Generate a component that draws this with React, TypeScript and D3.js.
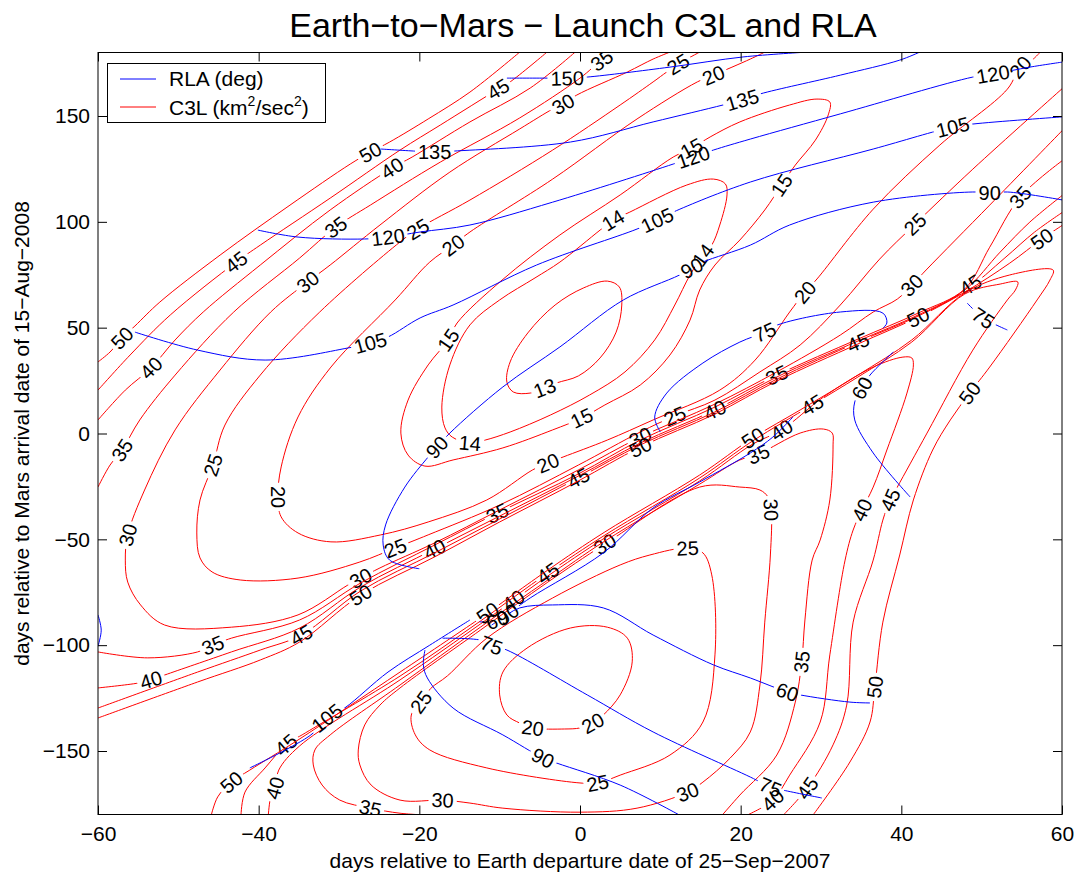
import { useEffect, useRef } from "react";
import * as d3 from "d3";

type Pt = [number, number];

// axis ticks (days)
const xTicks = [-60, -40, -20, 0, 20, 40, 60];
const yTicks = [-150, -100, -50, 0, 50, 100, 150];

// ---- C3L contours, [departure day, arrival day] ----
const c3_13: Pt[] = [[3.4,72.0],[4.9,69.2],[5.2,60.7],[4.5,47.9],[2.5,35.7],[-0.2,27.2],[-2.9,23.9],[-4.4,21.5],[-6.2,19.1],[-8.3,19.6],[-9.1,24.3],[-8.7,33.8],[-6.5,47.5],[-3.1,60.7],[0.4,68.7]];
const c3_13_lab: Pt[] = [[-4.4,21.5]];

const c3_14: Pt[] = [[-13.7,-4.5],[-11.8,-3.1],[-8.7,0.7],[-3.7,8.7],[1.2,18.2],[5.6,29.1],[9.3,44.2],[11.8,60.7],[13.7,74.9],[15.3,84.3],[16.4,89.0],[17.4,98.5],[18.3,112.7],[18.1,117.9],[16.6,120.2],[13.3,117.4],[6.2,104.6],[4.1,100.8],[2.5,96.1],[-2.5,81.0],[-5.6,73.5],[-10.0,63.1],[-13.7,51.3],[-16.2,32.4],[-17.2,12.5],[-16.8,2.6],[-15.9,-1.7]];
const c3_14_lab: Pt[] = [[-13.7,-4.5],[15.3,84.3],[4.1,100.8]];

const c3_15: Pt[] = [[-16.4,44.2],[-15.3,52.2],[-9.7,72.5],[-2.5,93.8],[5.0,112.7],[11.6,130.6],[13.9,134.8],[16.2,140.1],[19.9,147.2],[26.1,155.2],[29.5,158.0],[31.1,156.6],[30.9,150.5],[29.3,138.6],[26.8,126.8],[25.1,117.4],[23.0,105.6],[19.9,91.4],[16.8,79.6],[14.9,67.8],[13.7,53.6],[11.2,37.1],[7.5,22.9],[3.1,13.5],[0.2,7.3],[-3.4,1.7],[-9.6,-6.8],[-15.8,-12.5],[-19.3,-15.4],[-21.4,-10.2],[-22.3,0.2],[-21.4,15.8],[-18.9,32.4]];
const c3_15_lab: Pt[] = [[-16.4,44.2],[13.9,134.8],[25.1,117.4],[0.2,7.3]];

const c3_20: Pt[] = [[23.0,180.2],[21.2,176.9],[16.6,169.3],[14.6,166.1],[7.1,148.6],[-3.4,120.2],[-13.7,95.2],[-15.8,89.0],[-18.7,81.0],[-23.0,63.1],[-31.0,31.4],[-35.1,7.8],[-37.2,-15.8],[-37.6,-30.0],[-37.2,-39.4],[-35.1,-47.0],[-31.0,-51.2],[-24.8,-47.9],[-18.9,-41.8],[-11.6,-31.4],[-5.9,-17.2],[-4.0,-13.9],[-2.1,-11.1],[3.4,-3.1],[9.1,6.4],[17.4,20.5],[21.8,34.7],[26.1,57.4],[28.0,66.8],[29.5,73.0],[36.5,106.0],[44.8,136.3],[53.2,162.7],[54.8,173.1],[56.0,175.5],[57.3,180.2]];
const c3_20_lab: Pt[] = [[16.6,169.3],[-15.8,89.0],[-37.6,-30.0],[-4.0,-13.9],[28.0,66.8],[54.8,173.1]];

const c3_25: Pt[] = [[14.9,180.2],[12.2,174.5],[10.8,170.8],[9.1,166.1],[5.0,155.2],[-3.4,133.9],[-13.7,110.3],[-20.2,96.6],[-22.4,90.5],[-32.4,57.4],[-39.8,27.6],[-44.2,4.0],[-45.7,-14.9],[-47.3,-31.4],[-47.7,-47.0],[-47.3,-58.8],[-45.8,-65.4],[-42.3,-69.2],[-35.1,-68.3],[-27.4,-60.7],[-23.0,-54.1],[-18.9,-47.9],[-10.0,-33.8],[-0.2,-14.9],[7.5,0.7],[11.8,8.3],[16.8,15.8],[22.4,29.1],[27.4,41.8],[32.4,60.7],[37.3,82.4],[41.7,98.9],[48.9,124.9],[60.1,163.2]];
const c3_25_lab: Pt[] = [[12.2,174.5],[-20.2,96.6],[-45.7,-14.9],[-23.0,-54.1],[11.8,8.3],[41.7,98.9]];

const c3_30: Pt[] = [[11.2,180.2],[9.1,176.9],[5.9,170.8],[-0.4,159.9],[-2.1,155.7],[-3.4,153.3],[-7.5,143.9],[-16.2,123.5],[-24.9,98.5],[-31.1,79.6],[-33.9,71.6],[-38.5,57.4],[-44.8,30.0],[-50.4,1.7],[-54.2,-26.7],[-56.3,-47.9],[-56.6,-59.8],[-56.3,-70.2],[-54.7,-81.0],[-51.7,-90.5],[-43.4,-91.5],[-35.1,-85.7],[-28.9,-71.6],[-27.3,-68.3],[-24.9,-63.5],[-18.1,-51.7],[-10.0,-36.1],[-0.2,-17.2],[7.5,-1.7],[16.8,13.9],[24.5,29.1],[32.4,46.5],[36.5,57.4],[39.5,63.5],[41.3,70.1],[43.2,77.7],[51.0,107.9],[60.1,143.4]];
const c3_30_lab: Pt[] = [[-2.1,155.7],[-33.9,71.6],[-56.3,-47.9],[-27.3,-68.3],[7.5,-1.7],[41.3,70.1]];

const c3_35a: Pt[] = [[4.4,180.2],[2.7,176.4],[0,167.9],[-7.5,149.1],[-17.4,128.2],[-26.1,107.9],[-30.4,97.5],[-34.9,82.9],[-43.1,57.4],[-50.4,27.6],[-54.8,6.4],[-57.0,-7.8],[-58.5,-14.9],[-60,-25.3]];
const c3_35a_lab: Pt[] = [[2.7,176.4],[-30.4,97.5],[-57.0,-7.8]];
const c3_35b: Pt[] = [[-60,-103.2],[-53.8,-106.0],[-47.6,-103.2],[-45.7,-100.0],[-43.4,-96.7],[-34.9,-88.1],[-27.3,-70.6],[-18.1,-52.7],[-10.3,-37.6],[-0.2,-19.1],[7.5,-3.1],[16.8,12.5],[24.5,27.6],[34.6,44.6],[42.1,56.9],[47.9,68.3],[51.0,88.0],[54.8,111.7],[60.1,129.1]];
const c3_35b_lab: Pt[] = [[-45.7,-100.0],[-10.3,-37.6],[24.5,27.6],[54.8,111.7]];

const c3_40a: Pt[] = [[-60,6.4],[-56.6,20.5],[-53.4,31.0],[-50.4,44.2],[-46.9,57.4],[-39.8,79.6],[-31.1,105.6],[-23.4,125.4],[-20.9,130.6],[-13.7,147.2],[-6.2,163.2],[-0.6,180.2]];
const c3_40a_lab: Pt[] = [[-53.4,31.0],[-23.4,125.4]];
const c3_40b: Pt[] = [[-60,-120.2],[-55.0,-117.9],[-53.4,-116.4],[-51.7,-114.1],[-43.4,-103.2],[-34.9,-91.9],[-27.3,-72.5],[-18.1,-54.6],[-10.0,-39.0],[-0.2,-20.1],[7.5,-4.5],[16.8,11.1],[24.5,26.7],[34.6,43.7],[42.1,56.0],[47.9,67.8],[52.3,85.7],[56.0,99.9],[60.1,112.7]];
const c3_40b_lab: Pt[] = [[-53.4,-116.4],[-18.1,-54.6],[16.8,11.1]];

const c3_45a: Pt[] = [[-60,20.5],[-56.0,37.1],[-51.0,56.0],[-42.8,81.0],[-39.8,89.0],[-31.1,111.2],[-22.4,133.9],[-17.4,145.7],[-10.2,162.7],[-8.7,166.1],[-4.1,180.2]];
const c3_45a_lab: Pt[] = [[-42.8,81.0],[-10.2,162.7]];
const c3_45b: Pt[] = [[-60,-129.7],[-47.6,-112.7],[-39.8,-102.3],[-34.7,-95.2],[-27.3,-74.4],[-18.1,-56.4],[-10.0,-40.4],[-0.2,-21.0],[7.5,-5.4],[16.8,10.2],[24.5,25.7],[34.6,43.2],[42.1,55.5],[47.9,67.3],[52.9,83.0],[56.6,95.2],[60.1,104.6]];
const c3_45b_lab: Pt[] = [[-34.7,-95.2],[-0.2,-21.0],[34.6,43.2],[48.6,70.2]];

const c3_50a: Pt[] = [[-60,33.8],[-58.5,38.5],[-57.0,45.1],[-55.4,50.8],[-52.3,62.1],[-44.8,84.3],[-36.1,107.9],[-28.6,127.3],[-26.1,132.9],[-23.7,137.7],[-18.9,148.6],[-13.7,161.3],[-7.5,180.2]];
const c3_50a_lab: Pt[] = [[-57.0,45.1],[-26.1,132.9]];
const c3_50b: Pt[] = [[-60,-134.4],[-47.6,-117.4],[-39.8,-107.0],[-34.9,-98.5],[-27.3,-76.3],[-18.1,-58.3],[-10.0,-41.8],[-0.2,-22.4],[7.5,-6.4],[16.8,9.2],[24.5,24.8],[34.6,42.3],[42.1,55.0],[47.9,66.8],[53.5,80.5],[57.5,91.9],[60.1,98.5]];
const c3_50b_lab: Pt[] = [[-27.3,-76.3],[7.5,-6.4],[42.1,55.0],[57.5,91.9]];

// lower family (below the second ridge)
const c3L_20: Pt[] = [[-10.0,-123.5],[-9.6,-112.7],[-6.6,-101.4],[-1.2,-91.9],[3.4,-91.5],[5.9,-96.7],[6.5,-107.9],[5.0,-123.5],[2.9,-133.0],[1.6,-136.8],[0,-139.1],[-1.9,-139.6],[-5.9,-139.1],[-7.5,-136.8],[-9.1,-133.0]];
const c3L_20_lab: Pt[] = [[1.6,-136.8],[-5.9,-139.1]];

const c3L_25: Pt[] = [[-19.8,-126.9],[-18.6,-120.5],[-16.5,-114.5],[-11.6,-96.7],[-3.4,-77.7],[5.0,-62.1],[8.7,-57.4],[13.4,-54.1],[15.3,-56.4],[16.4,-66.8],[16.8,-104.6],[15.3,-136.3],[11.2,-151.9],[5.0,-161.4],[2.2,-165.1],[0,-165.1],[-11.6,-158.0],[-18.7,-149.5],[-20.5,-142.4],[-21.0,-133.0]];
const c3L_25_lab: Pt[] = [[-19.8,-126.9],[13.4,-54.1],[2.2,-165.1]];

const c3L_30: Pt[] = [[23.4,-30.0],[22.4,-26.7],[19.9,-25.3],[14.9,-25.3],[3.1,-52.2],[-4.0,-70.2],[-12.4,-92.9],[-22.4,-120.2],[-24.9,-128.3],[-26.8,-137.7],[-27.6,-149.5],[-27.4,-156.6],[-26.0,-166.1],[-22.4,-173.2],[-17.1,-173.2],[-13.7,-174.6],[-9.6,-177.0],[0,-178.9],[7.1,-177.0],[13.4,-169.4],[15.3,-164.7],[18.7,-153.3],[21.2,-141.0],[22.4,-118.8],[23.0,-89.1],[23.7,-57.4],[23.8,-36.1]];
const c3L_30_lab: Pt[] = [[3.1,-52.2],[-17.1,-173.2],[13.4,-169.4],[23.8,-36.1]];

const c3L_35: Pt[] = [[-18.9,-180.3],[-22.4,-179.4],[-26.1,-177.0],[-29.9,-173.2],[-32.1,-166.1],[-33.2,-156.6],[-33.0,-149.5],[-31.1,-142.4],[-22.4,-118.8],[-12.4,-91.5],[-4.0,-69.2],[3.1,-50.8],[14.9,-23.9],[19.9,-12.5],[22.2,-9.7],[27.4,0.2],[30.3,2.1],[31.4,0.2],[31.5,-5.4],[31.1,-31.4],[29.9,-50.3],[28.9,-59.8],[28.0,-88.1],[27.6,-107.9],[26.8,-126.9],[24.5,-151.9],[19.9,-170.8],[17.7,-180.3]];
const c3L_35_lab: Pt[] = [[-26.1,-177.0],[22.2,-9.7],[27.6,-107.9]];

const c3L_40: Pt[] = [[-38.8,-180.3],[-38.5,-171.7],[-38.0,-167.5],[-37.5,-159.0],[-34.9,-147.6],[-22.4,-116.4],[-12.4,-90.0],[-8.3,-78.9],[-4.0,-67.3],[3.1,-49.3],[14.9,-22.4],[21.5,-5.0],[25.1,1.7],[30.3,17.2],[36.5,31.4],[40.2,36.1],[41.3,35.7],[41.5,32.4],[40.7,19.1],[38.2,-7.8],[36.5,-25.3],[35.1,-36.1],[34.0,-45.6],[33.0,-59.8],[31.1,-104.6],[29.9,-136.3],[26.1,-161.4],[24.0,-173.2],[20.8,-180.3]];
const c3L_40_lab: Pt[] = [[-38.0,-167.5],[-8.3,-78.9],[25.1,1.7],[35.1,-36.1],[24.0,-173.2]];

const c3L_45: Pt[] = [[-42.2,-180.3],[-41.7,-169.4],[-39.2,-158.0],[-36.6,-147.1],[-34.2,-141.5],[-22.4,-114.6],[-12.4,-88.6],[-4.0,-65.9],[3.1,-48.0],[14.9,-21.0],[21.5,-3.5],[28.9,13.5],[34.6,26.7],[41.3,43.2],[47.9,65.9],[52.3,70.6],[54.5,71.6],[54.2,67.8],[53.2,63.1],[48.9,39.4],[43.2,0.2],[39.5,-25.3],[38.6,-31.4],[37.7,-40.9],[36.5,-59.8],[34.0,-89.1],[33.2,-128.3],[31.5,-147.1],[28.3,-167.5],[25.3,-180.3]];
const c3L_45_lab: Pt[] = [[-36.6,-147.1],[-4.0,-65.9],[28.9,13.5],[38.6,-31.4],[28.3,-167.5]];

const c3L_50: Pt[] = [[-45.9,-180.3],[-45.1,-171.7],[-43.4,-164.7],[-41.1,-159.0],[-35.1,-144.8],[-22.4,-112.7],[-12.4,-87.2],[-11.5,-84.8],[-4.0,-64.5],[3.1,-46.5],[14.9,-19.6],[21.5,-2.1],[27.4,11.1],[34.6,27.6],[41.3,44.2],[47.9,66.4],[53.5,74.9],[58.9,77.2],[58.5,72.5],[56.9,63.1],[51.0,31.4],[48.5,19.1],[46.1,6.4],[43.9,-7.8],[41.5,-31.4],[39.8,-57.4],[37.7,-89.1],[36.7,-119.8],[36.1,-136.3],[33.6,-155.2],[29.0,-180.3]];
const c3L_50_lab: Pt[] = [[-43.4,-164.7],[-11.5,-84.8],[21.5,-2.1],[48.5,19.1],[36.7,-119.8]];

// ---- RLA contours (deg) ----
const rla150: Pt[] = [[-9.1,167.9],[-4.1,167.9],[-1.6,167.9],[0.9,168.4],[11.2,173.1],[20.3,177.9],[28.3,180.2]];
const rla150_lab: Pt[] = [[-1.6,167.9]];
const rla135: Pt[] = [[-24.8,134.4],[-20.5,133.4],[-18.1,132.9],[-15.8,133.4],[-1.2,137.7],[9.1,147.2],[17.8,155.2],[20.2,157.6],[22.4,160.4],[32.4,169.3],[39.8,176.4],[42.3,180.2]];
const rla135_lab: Pt[] = [[-18.1,132.9],[20.2,157.6]];
const rla120: Pt[] = [[-40.1,96.1],[-35.1,92.8],[-26.8,91.9],[-23.9,92.8],[-19.9,95.2],[-13.7,98.5],[-3.4,109.3],[11.6,127.3],[14.1,130.6],[16.6,133.9],[21.2,139.1],[32.4,151.0],[48.9,168.4],[51.4,169.8],[56.0,173.1],[60.1,175.5]];
const rla120_lab: Pt[] = [[-23.9,92.8],[14.1,130.6],[51.4,169.8]];
const rla105a: Pt[] = [[-55.4,47.9],[-47.6,39.4],[-39.2,34.7],[-28.9,40.4],[-26.1,42.8],[-23.9,45.6],[-19.9,54.6],[-15.8,60.7],[-5.4,79.6],[7.1,96.6],[9.6,100.8],[11.6,104.6],[21.2,118.8],[36.5,134.4],[46.4,144.8],[48.9,146.2],[60.1,149.6]];
const rla105a_lab: Pt[] = [[-26.1,42.8],[9.6,100.8],[46.4,144.8]];
const rla105b: Pt[] = [[-41.1,-158.0],[-33.5,-142.4],[-31.5,-134.4],[-29.3,-129.7],[-23.9,-112.7],[-18.7,-100.0],[-13.7,-88.1]];
const rla105b_lab: Pt[] = [[-31.5,-134.4]];
const rla90a: Pt[] = [[-20.0,-63.9],[-23.7,-59.8],[-24.5,-52.7],[-24.2,-43.2],[-21.8,-25.3],[-18.9,-11.1],[-17.8,-6.4],[-16.2,0.2],[-9.6,22.0],[-2.5,40.9],[5.4,63.1],[12.4,74.9],[13.9,78.2],[15.3,81.0],[21.2,89.0],[26.1,98.5],[36.5,109.3],[48.9,114.1],[51.0,113.6],[53.2,114.1],[60.1,110.3]];
const rla90a_lab: Pt[] = [[-17.8,-6.4],[13.9,78.2],[51.0,113.6]];
const rla90b: Pt[] = [[-11.0,-90.5],[-9.0,-85.3],[-6.2,-77.7],[2.9,-56.4],[9.1,-35.2],[14.9,-22.9],[21.2,-9.2],[24.0,-1.7],[26.5,7.8]];
const rla90b_lab: Pt[] = [[-9.0,-85.3]];
const rla90c: Pt[] = [[-19.3,-102.3],[-19.5,-109.3],[-19.0,-115.5],[-15.8,-129.7],[-9.6,-142.4],[-4.6,-153.3],[-2.9,-155.7],[5.0,-166.1],[12.4,-180.3]];
const rla90c_lab: Pt[] = [[-4.6,-153.3]];
const rla75a: Pt[] = [[10.0,0.7],[9.3,7.8],[10.8,19.1],[15.3,33.3],[19.9,43.2],[23.0,47.9],[24.6,51.3],[32.4,57.4],[37.7,56.9],[38.2,52.2],[37.7,49.8]];
const rla75a_lab: Pt[] = [[23.0,47.9]];
const rla75b: Pt[] = [[48.2,61.6],[50.2,54.6],[53.2,48.9]];
const rla75b_lab: Pt[] = [[50.2,54.6]];
const rla75c: Pt[] = [[-17.1,-96.7],[-12.4,-97.6],[-11.0,-100.0],[-9.1,-102.3],[0.9,-123.5],[9.1,-141.0],[21.2,-162.3],[23.7,-167.0],[25.3,-168.5],[30.1,-172.2]];
const rla75c_lab: Pt[] = [[-11.0,-100.0],[23.7,-167.0]];
const rla60a: Pt[] = [[39.0,38.5],[36.1,27.6],[35.1,21.5],[34.2,14.9],[34.2,6.4],[36.5,-9.2],[41.1,-30.0]];
const rla60a_lab: Pt[] = [[35.1,21.5]];
const rla60b: Pt[] = [[-12.5,-89.0],[-10.3,-88.1],[-7.5,-82.4],[-3.4,-81.0],[2.9,-82.4],[9.1,-95.2],[16.6,-109.3],[21.2,-115.5],[25.8,-122.1],[27.4,-123.5],[33.6,-126.9],[36.1,-127.3]];
const rla60b_lab: Pt[] = [[-10.3,-88.1],[25.8,-122.1]];
const rlaEdge: Pt[] = [[-60,-85.7],[-59.6,-92.9],[-60,-100.5]];

type Contour = { level: number; kind: "c3" | "rla"; closed: boolean; pts: Pt[]; labels: Pt[] };
const C = (level: number, kind: "c3" | "rla", pts: Pt[], labels: Pt[], closed = false): Contour => ({ level, kind, pts, labels, closed });

const contours: Contour[] = [
  C(13, "c3", c3_13, c3_13_lab, true),
  C(14, "c3", c3_14, c3_14_lab, true),
  C(15, "c3", c3_15, c3_15_lab, true),
  C(20, "c3", c3_20, c3_20_lab),
  C(25, "c3", c3_25, c3_25_lab),
  C(30, "c3", c3_30, c3_30_lab),
  C(35, "c3", c3_35a, c3_35a_lab),
  C(35, "c3", c3_35b, c3_35b_lab),
  C(40, "c3", c3_40a, c3_40a_lab),
  C(40, "c3", c3_40b, c3_40b_lab),
  C(45, "c3", c3_45a, c3_45a_lab),
  C(45, "c3", c3_45b, c3_45b_lab),
  C(50, "c3", c3_50a, c3_50a_lab),
  C(50, "c3", c3_50b, c3_50b_lab),
  C(20, "c3", c3L_20, c3L_20_lab, true),
  C(25, "c3", c3L_25, c3L_25_lab, true),
  C(30, "c3", c3L_30, c3L_30_lab, true),
  C(35, "c3", c3L_35, c3L_35_lab),
  C(40, "c3", c3L_40, c3L_40_lab),
  C(45, "c3", c3L_45, c3L_45_lab),
  C(50, "c3", c3L_50, c3L_50_lab),
  C(150, "rla", rla150, rla150_lab),
  C(135, "rla", rla135, rla135_lab),
  C(120, "rla", rla120, rla120_lab),
  C(105, "rla", rla105a, rla105a_lab),
  C(105, "rla", rla105b, rla105b_lab),
  C(90, "rla", rla90a, rla90a_lab),
  C(90, "rla", rla90b, rla90b_lab),
  C(90, "rla", rla90c, rla90c_lab),
  C(75, "rla", rla75a, rla75a_lab),
  C(75, "rla", rla75b, rla75b_lab),
  C(75, "rla", rla75c, rla75c_lab),
  C(60, "rla", rla60a, rla60a_lab),
  C(60, "rla", rla60b, rla60b_lab),
  C(105, "rla", rlaEdge, []),
];

const FONT = "'Liberation Sans', Arial, Helvetica, sans-serif";

export default function App() {
  const ref = useRef<SVGSVGElement>(null);

  useEffect(() => {
    const svg = d3.select(ref.current!);
    svg.selectAll("*").remove();

    const x = d3.scaleLinear().domain([-60, 60]).range([98, 1062]);
    const y = d3.scaleLinear().domain([-180, 180]).range([814.5, 52.5]);
    const [x0, x1] = x.range();
    const [y1, y0] = y.range();

    const defs = svg.append("defs");
    defs.append("clipPath").attr("id", "plotclip")
      .append("rect").attr("x", x0).attr("y", y0).attr("width", x1 - x0).attr("height", y1 - y0);

    const labelSize = 20;
    const lineOpen = d3.line<Pt>().x(d => x(d[0])).y(d => y(d[1])).curve(d3.curveCatmullRom.alpha(0.5));
    const lineClosed = d3.line<Pt>().x(d => x(d[0])).y(d => y(d[1])).curve(d3.curveCatmullRomClosed.alpha(0.5));

    // angle of a label from the direction of the line at its nearest vertex
    const angleAt = (c: Contour, p: Pt) => {
      const sp = c.pts.map(d => [x(d[0]), y(d[1])]);
      const px = x(p[0]), py = y(p[1]);
      let best = Infinity, bi = 0;
      sp.forEach((q, i) => {
        const dd = (q[0] - px) ** 2 + (q[1] - py) ** 2;
        if (dd < best) { best = dd; bi = i; }
      });
      const n = sp.length;
      const prev = c.closed ? sp[(bi - 1 + n) % n] : sp[Math.max(0, bi - 1)];
      const next = c.closed ? sp[(bi + 1) % n] : sp[Math.min(n - 1, bi + 1)];
      let a = Math.atan2(next[1] - prev[1], next[0] - prev[0]) * 180 / Math.PI;
      if (a > 90) a -= 180;
      if (a < -90) a += 180;
      return a;
    };

    const plot = svg.append("g").attr("clip-path", "url(#plotclip)");

    contours.forEach((c, i) => {
      const id = `gap${i}`;
      const labs = c.labels.map(p => ({ p, a: angleAt(c, p), w: String(c.level).length * labelSize * 0.556 + 6 }));
      if (labs.length) {
        const m = defs.append("mask").attr("id", id).attr("maskUnits", "userSpaceOnUse")
          .attr("x", 0).attr("y", 0).attr("width", 1080).attr("height", 874);
        m.append("rect").attr("x", 0).attr("y", 0).attr("width", 1080).attr("height", 874).attr("fill", "#fff");
        labs.forEach(l => {
          m.append("rect")
            .attr("x", -l.w / 2).attr("y", -8).attr("width", l.w).attr("height", 16)
            .attr("fill", "#000")
            .attr("transform", `translate(${x(l.p[0])},${y(l.p[1])}) rotate(${l.a})`);
        });
      }
      plot.append("path")
        .attr("d", (c.closed ? lineClosed : lineOpen)(c.pts))
        .attr("fill", "none")
        .attr("stroke", c.kind === "c3" ? "#ff0000" : "#0000ff")
        .attr("stroke-width", 1)
        .attr("mask", labs.length ? `url(#${id})` : null);
      labs.forEach(l => {
        plot.append("text")
          .attr("transform", `translate(${x(l.p[0])},${y(l.p[1])}) rotate(${l.a})`)
          .attr("text-anchor", "middle")
          .attr("dy", "0.36em")
          .attr("font-family", FONT)
          .attr("font-size", labelSize)
          .attr("fill", "#000")
          .text(String(c.level));
      });
    });

    // axes with inward ticks on all four sides
    const gb = svg.append("g").attr("transform", `translate(0,${y1})`)
      .call(d3.axisBottom(x).tickValues(xTicks).tickSizeInner(-9).tickSizeOuter(0).tickPadding(12));
    const gl = svg.append("g").attr("transform", `translate(${x0},0)`)
      .call(d3.axisLeft(y).tickValues(yTicks).tickSizeInner(-9).tickSizeOuter(0).tickPadding(8));
    const gt = svg.append("g").attr("transform", `translate(0,${y0})`)
      .call(d3.axisTop(x).tickValues(xTicks).tickSizeInner(-9).tickSizeOuter(0).tickFormat(() => ""));
    const gr = svg.append("g").attr("transform", `translate(${x1},0)`)
      .call(d3.axisRight(y).tickValues(yTicks).tickSizeInner(-9).tickSizeOuter(0).tickFormat(() => ""));
    [gb, gl, gt, gr].forEach(g => {
      g.select(".domain").remove();
      g.attr("font-size", 21).attr("font-family", FONT);
      g.selectAll("text").attr("fill", "#000");
    });

    svg.append("rect").attr("x", x0).attr("y", y0).attr("width", x1 - x0).attr("height", y1 - y0)
      .attr("fill", "none").attr("stroke", "#000").attr("stroke-width", 1);

    // titles
    svg.append("text").attr("x", 583).attr("y", 37).attr("text-anchor", "middle")
      .attr("font-family", FONT).attr("font-size", 34)
      .text("Earth\u2212to\u2212Mars \u2212 Launch C3L and RLA");
    svg.append("text").attr("x", (x0 + x1) / 2).attr("y", 868).attr("text-anchor", "middle")
      .attr("font-family", FONT).attr("font-size", 21)
      .text("days relative to Earth departure date of 25\u2212Sep\u22122007");
    svg.append("text").attr("transform", `translate(29,${(y0 + y1) / 2}) rotate(-90)`).attr("text-anchor", "middle")
      .attr("font-family", FONT).attr("font-size", 21)
      .text("days relative to Mars arrival date of 15\u2212Aug\u22122008");

    // legend
    const lg = svg.append("g");
    lg.append("rect").attr("x", 107.5).attr("y", 63.5).attr("width", 218).attr("height", 59)
      .attr("fill", "#fff").attr("stroke", "#000").attr("stroke-width", 1);
    lg.append("line").attr("x1", 120).attr("x2", 156).attr("y1", 79).attr("y2", 79).attr("stroke", "#0000ff");
    lg.append("line").attr("x1", 120).attr("x2", 156).attr("y1", 107).attr("y2", 107).attr("stroke", "#ff0000");
    lg.append("text").attr("x", 169).attr("y", 86).attr("font-family", FONT).attr("font-size", 21).text("RLA (deg)");
    const t2 = lg.append("text").attr("x", 169).attr("y", 115).attr("font-family", FONT).attr("font-size", 21);
    t2.append("tspan").text("C3L (km");
    t2.append("tspan").attr("font-size", 14).attr("dy", -9).text("2");
    t2.append("tspan").attr("dy", 9).text("/sec");
    t2.append("tspan").attr("font-size", 14).attr("dy", -9).text("2");
    t2.append("tspan").attr("dy", 9).text(")");
  }, []);

  return (
    <svg ref={ref} width={1080} height={874}
      style={{ position: "absolute", left: 0, top: 0, background: "#fff" }} />
  );
}
